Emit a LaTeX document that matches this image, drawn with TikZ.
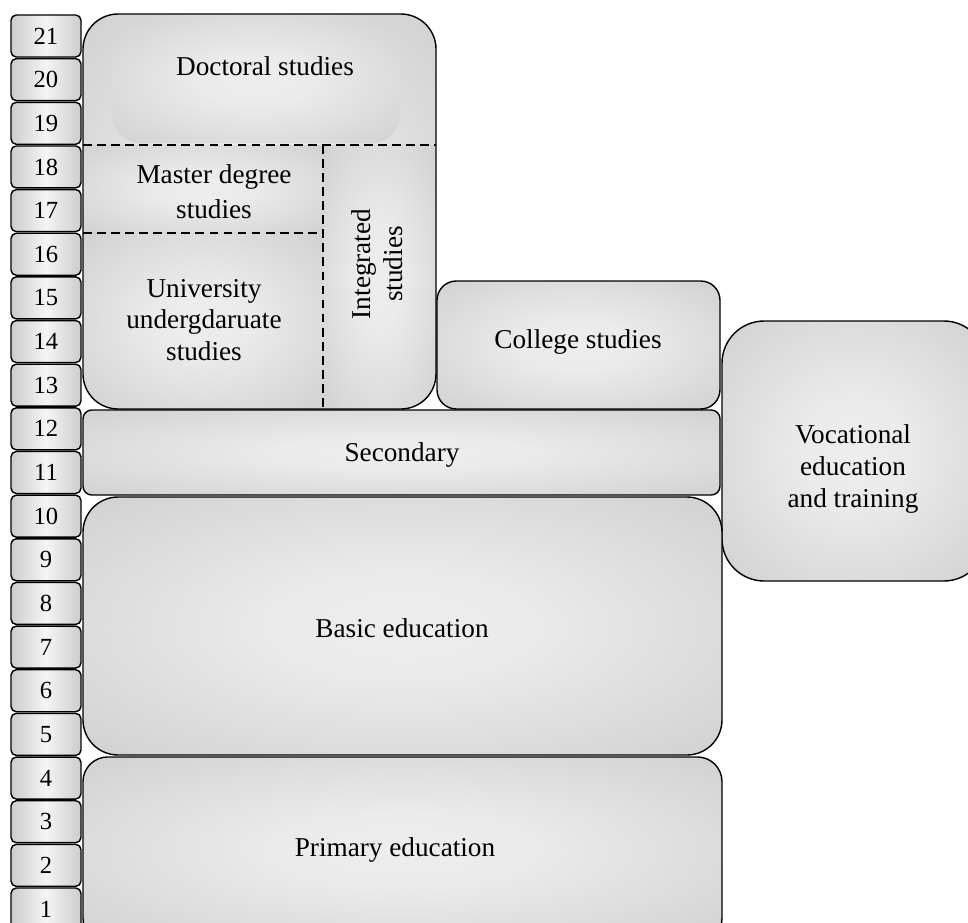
\documentclass[tikz,border=0pt]{standalone}
\usepackage{fontspec}
\setmainfont{Liberation Serif}

\pgfdeclareradialshading{glow}{\pgfpoint{0bp}{0bp}}{color(0bp)=(gray!14); color(10bp)=(gray!16); color(38bp)=(gray!38); color(50bp)=(gray!40)}

\tikzset{
  yearbox/.style={draw, line width=0.8pt, rounded corners=3pt, left color=gray!40, right color=gray!40, middle color=gray!8, minimum width=1.4cm, minimum height=0.84cm, inner sep=0pt, font=\fontsize{14}{14}\selectfont},
  stage/.style={draw, shade, shading=glow, line width=0.8pt},
  stagetext/.style={align=center, font=\fontsize{15.5}{18}\selectfont},
  divide/.style={line width=0.8pt, dash pattern=on 5pt off 3pt}
}

\begin{document}
\begin{tikzpicture}[x=0.02cm,y=-0.02cm]
    \useasboundingbox (0,0) rectangle (968,923);
    \clip (0,0) rectangle (968,923);

    \foreach \n in {1,...,21}
        \node[yearbox] (year\n) at (46,{36+(21-\n)*43.65}) {\n};

    % university block
    \shade[shading=glow, rounded corners=20pt] (83,14) rectangle (436,409);
    \begin{scope}
        \clip[rounded corners=20pt] (83,14) rectangle (436,409);
        \shade[shading=glow, rounded corners=16pt] (112,17) rectangle (400,143);
        \shade[shading=glow] (83,145) rectangle (323,233);
        \shade[shading=glow] (83,233) rectangle (323,409);
        \shade[shading=glow] (323,145) rectangle (436,409);
    \end{scope}
    \draw[line width=0.8pt, rounded corners=20pt] (83,14) rectangle (436,409);
    \draw[divide] (83,145) -- (436,145);
    \draw[divide] (83,233) -- (323,233);
    \draw[divide] (323,145) -- (323,409);

    \draw[stage, rounded corners=11pt] (437,281) rectangle (720,409);
    \draw[stage, rounded corners=24pt] (722,321) rectangle (986,581);
    \draw[stage, rounded corners=5pt] (83,410) rectangle (720,495);
    \draw[stage, rounded corners=20pt] (83,497) rectangle (722,755);
    \draw[stage, rounded corners=14pt] (83,757) rectangle (722,943);

    \node[stagetext] (doctoral) at (265,66) {Doctoral studies};
    \node[stagetext, font=\fontsize{15.5}{20}\selectfont] (master) at (214,192) {Master degree\\studies};
    \node[stagetext] (undergrad) at (204,320) {University\\undergdaruate\\studies};
    \node[stagetext, rotate=90] (integrated) at (377,264) {Integrated\\studies};
    \node[stagetext] (college) at (578,342) {College studies};
    \node[stagetext] (vocational) at (853,469) {Vocational\\education\\and training};
    \node[stagetext] (secondary) at (402,455) {Secondary};
    \node[stagetext] (basic) at (402,628) {Basic education};
    \node[stagetext] (primary) at (395,850) {Primary education};

\end{tikzpicture}
\end{document}
